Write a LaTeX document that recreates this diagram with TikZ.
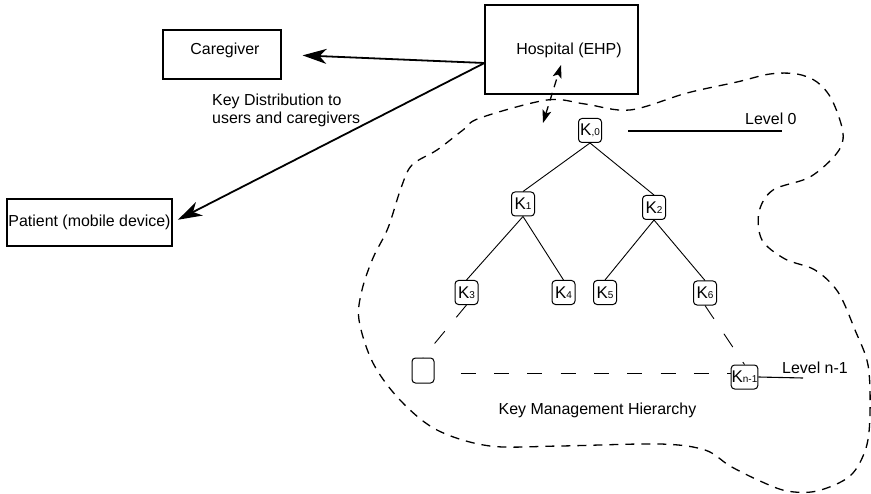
\documentclass[tikz,border=0pt]{standalone}
\usepackage{fontspec}
\setmainfont{Liberation Sans}
\usetikzlibrary{arrows.meta,calc}

% key label: a large K with a small index set on the baseline
\newcommand{\keylbl}[1]{K{\fontsize{10}{10}\selectfont #1}}

\begin{document}
\begin{tikzpicture}[x=1bp,y=-1bp,
  every node/.style={font=\fontsize{16}{18}\selectfont},
  plainbox/.style={draw, line width=1.1bp, inner sep=0pt},
  keybox/.style={draw, line width=1bp, rounded corners=3.5bp,
    minimum width=23bp, minimum height=24bp, inner xsep=0.5bp, inner ysep=1bp,
    font=\fontsize{17}{17}\selectfont},
  treeedge/.style={line width=0.9bp},
  hidden/.style={treeedge, dash pattern=on 16bp off 18bp},
  levelline/.style={line width=1.1bp},
  distarrow/.style={line width=1.8bp, -{Stealth[length=24bp, width=15bp, inset=7bp]}},
  linkarrow/.style={line width=1.3bp, dash pattern=on 8bp off 6bp,
    {Stealth[length=13bp, width=9bp, inset=3bp]}-{Stealth[length=13bp, width=9bp, inset=3bp]}},
  blob/.style={line width=1.3bp, dash pattern=on 9bp off 7bp}
]
\useasboundingbox (0,0) rectangle (871,494);

% --- parties ---
\node[plainbox, minimum width=153bp, minimum height=89bp] (hosp) at (561.5,49.5) {};
\node[anchor=base] (hosptext) at (569,55) {Hospital (EHP)};
\node[plainbox, minimum width=118bp, minimum height=49bp] (cg) at (222,54.5) {};
\node[anchor=base] (cgtext) at (225,55) {Caregiver};
\node[plainbox, minimum width=165bp, minimum height=47bp] (pat) at (89.5,222.5) {Patient (mobile device)};

% --- key distribution ---
\coordinate (src) at ($(hosp.west)+(0,13.5)$);
\draw[distarrow, shorten >=21bp] (src) -- (cg.east);
\draw[distarrow, shorten >=6bp] (src) -- (pat.east);
\node[anchor=north west, inner sep=0pt, align=left] (kdtext) at (212,93.5)
  {Key Distribution to\\users and caregivers};

% --- link between hospital and hierarchy ---
\coordinate (linktop) at (561,65);
\coordinate (linkbot) at (543,123);
\draw[linkarrow] (linkbot) -- (linktop);

% --- boundary of the key management hierarchy ---
\draw[blob] plot[smooth cycle, tension=0.55] coordinates {
  (480,118) (547,100) (585,104) (630,110) (687,93) (737,82) (770,74)
  (797,74) (817,82) (832,100) (843,133) (837,153) (810,177) (773,190)
  (759,212) (762,240) (785,259) (815,270) (838,292) (855,330) (868,365)
  (870,413) (866,448) (850,476) (817,491) (787,491) (760,481) (730,466)
  (705,450) (660,444) (560,446) (490,446) (437,430) (400,400)
  (373,363) (359,320) (362,290) (373,258) (388,228) (401,188) (412,165)
  (437,150) (463,130)};

% --- key tree ---
\node[keybox] (k0) at (590,130.5) {\keylbl{,0}};
\node[keybox] (k1) at (523,204) {\keylbl{1}};
\node[keybox] (k2) at (654,207.5) {\keylbl{2}};
\node[keybox] (k3) at (466.5,292.5) {\keylbl{3}};
\node[keybox] (k4) at (563.5,292.5) {\keylbl{4}};
\node[keybox] (k5) at (605,292.5) {\keylbl{5}};
\node[keybox] (k6) at (705,293) {\keylbl{6}};
\node[keybox, minimum width=22bp, minimum height=25bp] (kx) at (423,370.5) {};
\node[keybox, minimum width=25bp] (kn) at (744.5,377) {\keylbl{n-1}};

\draw[treeedge] (k0.south) -- (k1.north);
\draw[treeedge] (k0.south) -- (k2.north);
\draw[treeedge] (k1.south) -- (k3.north);
\draw[treeedge] (k1.south) -- (k4.north);
\draw[treeedge] (k2.south) -- (k5.north);
\draw[treeedge] (k2.south) -- (k6.north);
\draw[hidden] (k3.south) -- (kx.north);
\draw[hidden] (k6.south) -- (kn.north);
% lowest level, elided keys in between
\coordinate (rowstart) at ($(kx.east)+(0,3)$);
\draw[treeedge, dash pattern=on 15bp off 18.3bp, dash phase=15bp, shorten <=8bp]
  (rowstart) -- (rowstart -| kn.west);

% --- levels ---
\coordinate (l0a) at (628,131);
\coordinate (l0b) at (782,131);
\draw[levelline] (l0a) -- (l0b);
\node[anchor=base west, inner sep=0pt] (l0text) at (745,125) {Level 0};
\coordinate (lnb) at (803,378);
\draw[levelline] (kn.east) -- (lnb);
\node[anchor=base west, inner sep=0pt] (lntext) at (782,373) {Level n-1};

\node[anchor=base] (kmh) at (597.5,414) {Key Management Hierarchy};
\end{tikzpicture}
\end{document}
